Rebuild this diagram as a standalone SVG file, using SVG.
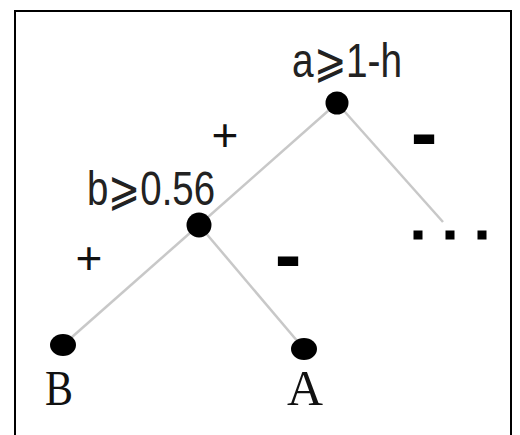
<svg xmlns="http://www.w3.org/2000/svg" width="520" height="435" viewBox="0 0 520 435">
  <style>
    .edge { stroke: #c8c8c8; stroke-width: 2.5; fill: none; }
    .node { fill: #000; }
    .cond { font-family: "Liberation Sans", Arial, sans-serif; font-size: 48px; fill: #222; }
    .leaf { font-family: "Liberation Serif", "Times New Roman", serif; font-size: 50px; fill: #111; }
    .plus { font-family: "Liberation Sans", Arial, sans-serif; font-size: 46px; fill: #111; text-anchor: middle; }
    .minus { font-family: "Liberation Sans", Arial, sans-serif; font-size: 80px; font-weight: bold; fill: #000; text-anchor: middle; }
    .dot { fill: #000; }
  </style>
  <rect x="15" y="11" width="496" height="440" fill="#fff" stroke="#000" stroke-width="2"/>
  <g id="connectors">
    <line class="edge" x1="337" y1="103" x2="199" y2="225"/>
    <line class="edge" x1="337" y1="103" x2="443" y2="222"/>
    <line class="edge" x1="199" y1="225" x2="63" y2="345"/>
    <line class="edge" x1="199" y1="225" x2="304" y2="349"/>
    <text class="plus" x="225" y="151">+</text>
    <text class="minus" x="424" y="160">-</text>
    <text class="plus" x="89" y="274">+</text>
    <text class="minus" x="288" y="282">-</text>
  </g>
  <g id="node-a">
    <ellipse class="node" cx="337" cy="103" rx="11.5" ry="11.5"/>
    <text class="cond" x="292" y="77" textLength="110" lengthAdjust="spacingAndGlyphs">a⩾1-h</text>
  </g>
  <g id="node-b">
    <ellipse class="node" cx="199" cy="225" rx="12.5" ry="12.5"/>
    <text class="cond" x="87" y="205" textLength="128" lengthAdjust="spacingAndGlyphs">b⩾0.56</text>
  </g>
  <g id="leaf-B">
    <ellipse class="node" cx="63" cy="345" rx="13" ry="11"/>
    <text class="leaf" x="45" y="405" textLength="28" lengthAdjust="spacingAndGlyphs">B</text>
  </g>
  <g id="leaf-A">
    <ellipse class="node" cx="304" cy="349" rx="13" ry="11"/>
    <text class="leaf" x="287" y="405" textLength="36" lengthAdjust="spacingAndGlyphs">A</text>
  </g>
  <g id="ellipsis">
    <rect class="dot" x="413.5" y="230.5" width="9" height="9"/>
    <rect class="dot" x="445.5" y="230.5" width="9" height="9"/>
    <rect class="dot" x="477.5" y="230.5" width="9" height="9"/>
  </g>
</svg>
